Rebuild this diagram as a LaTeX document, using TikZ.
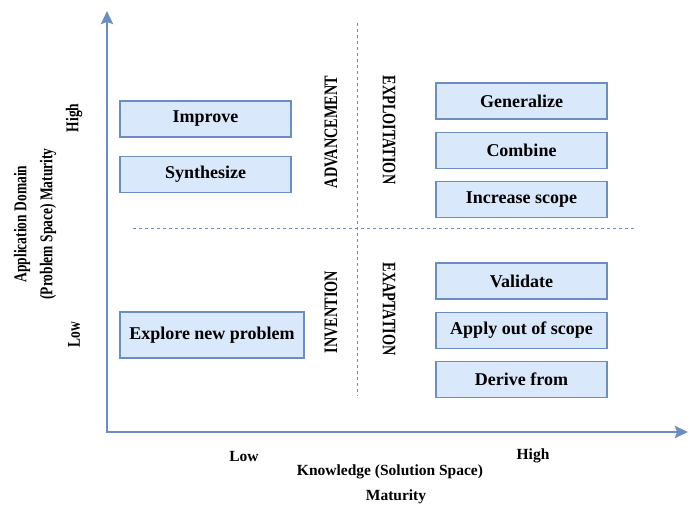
\documentclass[tikz,border=0pt]{standalone}
\usepackage{fontspec}
\setmainfont{Liberation Serif}
\newfontfamily\narrowserif[FakeStretch=0.75]{Liberation Serif}
\usetikzlibrary{arrows.meta,positioning}
\definecolor{boxfill}{HTML}{DAE8FC}
\definecolor{boxline}{HTML}{6C8EBF}

\begin{document}
\begin{tikzpicture}[
			x=1pt, y=-1pt,
			node distance=12pt,
			thick,
			block/.style={rectangle, draw=boxline, fill=boxfill, line width=1.3pt, minimum width=171pt, minimum height=36pt, inner sep=0pt, align=center, font=\fontsize{18}{20}\selectfont\bfseries},
			quadlabel/.style={inner sep=0pt, font=\narrowserif\fontsize{19}{21}\selectfont\bfseries},
			axislabel/.style={inner sep=0pt, align=center, font=\fontsize{15.5}{26}\selectfont\bfseries},
			sidelabel/.style={inner sep=0pt, align=center, rotate=90, font=\narrowserif\fontsize{18}{26}\selectfont\bfseries},
			axisline/.style={draw=boxline, line width=2.4pt, line join=miter, {Stealth[length=13pt,width=12pt,inset=2pt]}-{Stealth[length=13pt,width=12pt,inset=2pt]}},
			gridline/.style={draw=boxline, line width=0.9pt, dash pattern=on 3pt off 3pt}
		]
		\useasboundingbox (0,0) rectangle (689,506);

		% axes and quadrant lines
		\coordinate (Origin) at (107,432);
		\coordinate (YTop) at (107,11);
		\coordinate (XEnd) at (688,432);
		\draw[axisline] (YTop) -- (Origin) -- (XEnd);

		\coordinate (VTop) at (357,23);
		\coordinate (VBot) at (357,396);
		\coordinate (HLeft) at (133,228);
		\coordinate (HRight) at (635,228);
		\draw[gridline] (VTop) -- (VBot);
		\draw[gridline] (HLeft) -- (HRight);

		% left column
		\node[block] (Improve) at (205.5,119) {Improve};
		\node[block, below=18pt of Improve] (Synthesize) {Synthesize};
		\node[block, minimum width=184pt, minimum height=46pt] (Explore) at (212,335) {Explore new problem};

		% right column
		\node[block] (Generalize) at (521.5,101) {Generalize};
		\node[block, below=of Generalize] (Combine) {Combine};
		\node[block, below=of Combine] (Increase) {Increase scope};

		\node[block] (Validate) at (521.5,281) {Validate};
		\node[block, below=of Validate] (Apply) {Apply out of scope};
		\node[block, below=of Apply] (Derive) {Derive from};

		% quadrant names
		\node[quadlabel, rotate=90] (Advancement) at (331,132) {ADVANCEMENT};
		\node[quadlabel, rotate=-90] (Exploitation) at (389,130) {EXPLOITATION};
		\node[quadlabel, rotate=90] (Invention) at (331,312) {INVENTION};
		\node[quadlabel, rotate=-90] (Exaptation) at (389,309) {EXAPTATION};

		% axis labels
		\node[sidelabel] (YHigh) at (74,118) {High};
		\node[sidelabel] (YLow) at (74,335) {Low};
		\node[sidelabel] (YTitle) at (35,224) {Application Domain\\(Problem Space) Maturity};

		\node[axislabel] (XLow) at (244,456) {Low};
		\node[axislabel] (XHigh) at (533,456) {High};
		\node[axislabel] (XTitle) at (390,472) {Knowledge (Solution Space)};
		\node[axislabel] (XTitle2) at (396,497) {Maturity};

	\end{tikzpicture}
\end{document}
